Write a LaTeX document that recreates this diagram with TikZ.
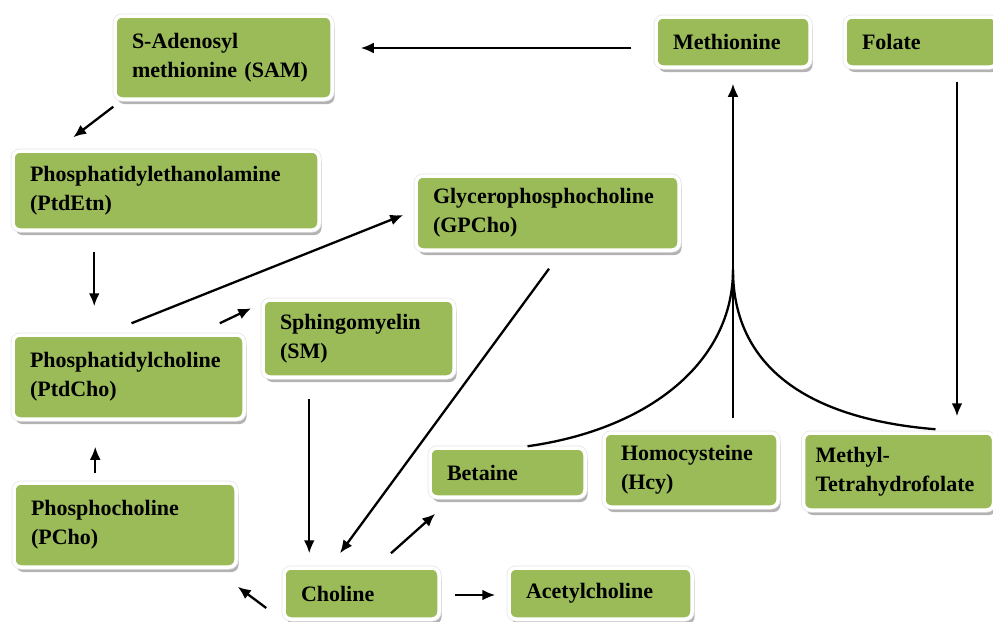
\documentclass[tikz,border=0pt]{standalone}
\usepackage{xcolor}
\usepackage{fontspec}
\setmainfont{Liberation Serif}
\usetikzlibrary{arrows.meta,shadows}
\definecolor{leaf}{RGB}{155,187,89}

\begin{document}
\begin{tikzpicture}[x=1pt, y=-1pt,
    box/.style={draw=white, line width=3.5pt, fill=leaf, rounded corners=7pt,
      drop shadow={shadow xshift=2.5pt, shadow yshift=-5pt, fill=black!50, opacity=.6},
      preaction={draw=black!10, line width=5pt},
      inner xsep=17pt, inner ysep=0pt, align=left,
      font=\fontsize{22}{29}\selectfont\bfseries},
    link/.style={line width=2.3pt, -{Latex[length=13pt,width=11pt]}}]
  \useasboundingbox (0,0) rectangle (993,621);
                \node[box, text width=183pt, minimum height=83pt] (sam) at (223.5,57.5) {S-Adenosyl\\methionine (SAM)};
                \node[box, text width=120pt, minimum height=50pt] (met) at (733,42) {Methionine};
                \node[box, text width=118pt, minimum height=50pt] (fol) at (921,42) {Folate};
                \node[box, text width=272pt, minimum height=79pt] (pe) at (166,190.5) {Phosphatidylethanolamine\\(PtdEtn)};
                \node[box, text width=229pt, minimum height=74pt] (gpc) at (547.5,213) {Glycerophosphocholine\\(GPCho)};
                \node[box, text width=197pt, minimum height=84pt] (pc) at (128.5,377) {Phosphatidylcholine\\(PtdCho)};
                \node[box, text width=157pt, minimum height=77pt] (sm) at (358.5,338.5) {Sphingomyelin\\(SM)};
                \node[box, text width=121pt, minimum height=49pt] (bet) at (507.5,472.5) {Betaine};
                \node[box, text width=140pt, minimum height=74pt] (hcy) at (691,470) {Homocysteine\\(Hcy)};
                \node[box, text width=166pt, inner xsep=12pt, minimum height=77pt] (mthf) at (898.5,471.5) {Methyl-\\Tetrahydrofolate};
                \node[box, text width=188pt, minimum height=84pt] (pcho) at (125,525) {Phosphocholine\\(PCho)};
                \node[box, text width=121pt, minimum height=51pt] (cho) at (361.5,593.5) {Choline};
                \node[box, text width=149pt, minimum height=51pt] (ach) at (600.5,593.5) {Acetylcholine};
                \coordinate (fork) at ([yshift=-201pt]met.south);
                \draw[link, shorten <=23pt, shorten >=27pt] ([yshift=-6pt]met.west) -- ([yshift=-6pt]met.west -| sam.east);
                \draw[link] ([yshift=-6pt]sam.south west) -- ([xshift=62pt,yshift=12pt]pe.north west);
                \draw[link] ([xshift=83pt,yshift=-20pt]pe.south west) -- ([xshift=83pt,yshift=27pt]pc.north west);
                \draw[link] ([xshift=3pt,yshift=10pt]pc.north) -- ([xshift=-11pt,yshift=-2pt]gpc.west);
                \draw[link] ([xshift=-26pt,yshift=10pt]pc.north east) -- ([xshift=-10pt,yshift=-10pt]sm.north west);
                \draw[link] ([xshift=83pt,yshift=8pt]pcho.north west) -- ([xshift=84pt,yshift=-26pt]pc.south west);
                \draw[link] ([xshift=48pt,yshift=-20pt]sm.south west) -- ([xshift=27pt,yshift=13pt]cho.north west);
                \draw[link] ([xshift=1.5pt,yshift=-17pt]gpc.south) -- ([xshift=-21.5pt,yshift=13pt]cho.north);
                \draw[link] ([xshift=29.5pt,yshift=13pt]cho.north) -- ([xshift=7pt,yshift=-15pt]bet.south west);
                \draw[link] ([xshift=-16pt,yshift=-14.5pt]cho.west) -- ([yshift=-18pt]pcho.south east);
                \draw[link, shorten <=14pt, shorten >=12pt] ([yshift=-1.5pt]cho.east) -- ([yshift=-1.5pt]cho.east -| ach.west);
                \draw[link, shorten <=13pt, shorten >=15pt] ([xshift=36pt]fol.south) -- ([xshift=36pt]fol.south |- mthf.north);
                \draw[link, shorten <=13pt, shorten >=15pt] (hcy.north -| met.south) -- (met.south);
                \draw[line width=2.3pt] ([xshift=20pt]bet.north) .. controls +(122,-17) and +(0,92) .. (fork);
                \draw[line width=2.3pt] ([xshift=37pt,yshift=2pt]mthf.north) .. controls +(-135,-11) and +(0,92) .. (fork);
            \end{tikzpicture}
\end{document}
